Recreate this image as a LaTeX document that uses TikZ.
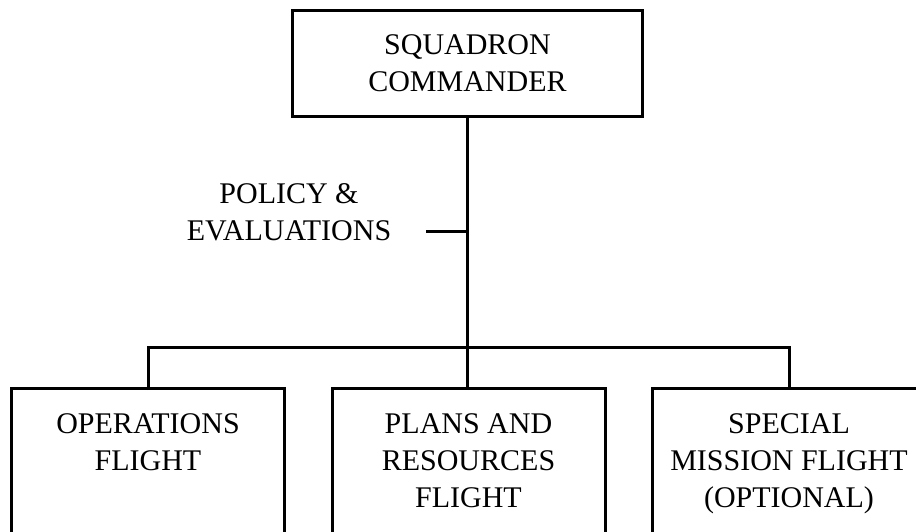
\documentclass[tikz,border=0pt]{standalone}
\usepackage{fontspec}
\setmainfont{Liberation Serif}
\usepackage{tikz}
\usetikzlibrary{positioning}

\begin{document}
\begin{tikzpicture}[
x=1pt, y=-1pt,
chartfont/.style={font=\fontsize{30}{37}\selectfont},
commandbox/.style={rectangle, draw=black, line width=3pt, chartfont, align=center, minimum width=350pt, minimum height=106pt},
flightbox/.style={rectangle, draw=black, line width=3pt, chartfont, align=center, anchor=north, minimum width=273pt, inner ysep=25.5pt},
staffnode/.style={chartfont, align=center, inner sep=0pt},
chartline/.style={draw=black, line width=3pt},
]
\path[use as bounding box] (0,0) rectangle (916,531);
\clip (0,0) rectangle (916,531);
%Nodes
\node[commandbox](cmdr) at (467.5,63.5){SQUADRON\\COMMANDER};
\node[staffnode](policy) at (289,212.5){POLICY \&\\EVALUATIONS};
\node[flightbox](ops) at (148,387){OPERATIONS\\FLIGHT\\\rule{0pt}{120pt}};
\node[flightbox](plans) at (468.5,387){PLANS AND\\RESOURCES\\FLIGHT\\\rule{0pt}{90pt}};
\node[flightbox](spec) at (789,387){SPECIAL\\MISSION FLIGHT\\(OPTIONAL)\\\rule{0pt}{90pt}};
\coordinate (tick) at (426,231);
\coordinate (bar) at (467.5,347);

\draw[chartline](cmdr.south) -- (cmdr.south |- plans.north);
\draw[chartline](tick) -- (tick -| cmdr.south);
\draw[chartline](ops.north) |- (bar) -| (spec.north);
\end{tikzpicture}
\end{document}
